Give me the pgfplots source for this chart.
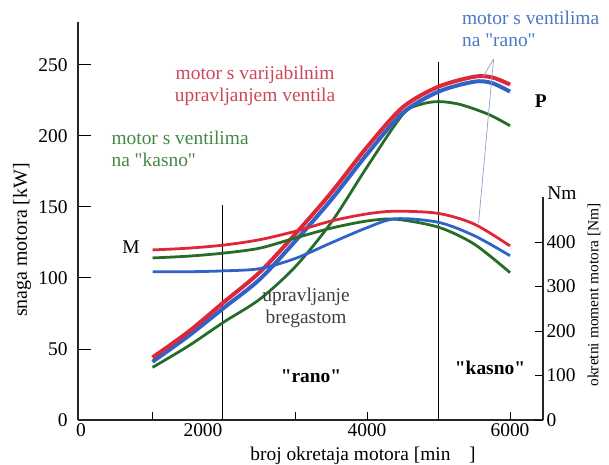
\documentclass[border=0pt]{standalone}
\usepackage{pgfplots}
\pgfplotsset{compat=1.18}
\usepackage{fontspec}
\setmainfont{Liberation Serif}

\definecolor{cred}{RGB}{222,40,58}
\definecolor{cblue}{RGB}{48,98,200}
\definecolor{cgreen}{RGB}{38,108,42}
\definecolor{tred}{RGB}{205,70,90}
\definecolor{tgreen}{RGB}{70,135,70}
\definecolor{tblue}{RGB}{75,120,195}
\definecolor{leader}{RGB}{140,160,200}

\newcommand{\fs}{\fontsize{19.5}{22}\selectfont}
\newcommand{\q}{\textquotedbl}

\pgfplotsset{
  base/.style={
    at={(78bp,45bp)}, anchor=south west,
    scale only axis, width=465bp, height=398bp,
    xmin=-42, xmax=6461, ymin=0,
    clip=false,
    /pgf/number format/assume math mode=true,
    tick label style={font=\fs},
    tick align=inside,
    tick style={black, line width=0.8pt},
  }
}

\begin{document}
\begin{tikzpicture}
\useasboundingbox (0,0) rectangle (609bp,465bp);

% power, kW
\begin{axis}[base,
  ymax=280,
  axis x line*=bottom, axis y line*=left,
  axis line style={line width=1.1pt, black!85},
  xtick={0,1706,4000,6000}, xticklabels={0,2000,4000,6000},
  x tick style={draw=none},
  ytick={0,50,100,150,200,250},
  major tick length=13bp,
  xticklabel style={yshift=-2bp, inner sep=1bp},
  yticklabel style={xshift=-7bp},
]
\draw[black, line width=1pt] (axis cs:1972,0) -- (axis cs:1972,151);
\draw[black, line width=1pt] (axis cs:4993,0) -- (axis cs:4993,252);

\addplot[cgreen, line width=2.8pt, smooth] coordinates {
  (1000,37) (1500,52) (2000,69) (2500,85) (3000,108) (3500,139) (4000,178)
  (4500,215) (4750,222) (5000,224) (5300,222) (5700,215) (6000,207)};
\addplot[cblue, line width=4pt, smooth] coordinates {
  (1000,41) (1500,59) (2000,79) (2500,99) (3000,126) (3500,155) (4000,187)
  (4500,216) (5000,231) (5500,238) (5750,237) (6000,231)};
\addplot[cred, line width=4pt, smooth] coordinates {
  (1000,44) (1500,62) (2000,83) (2500,104) (3000,131) (3500,160) (4000,192)
  (4500,220) (5000,234.5) (5500,241.5) (5750,241) (6000,236)};

\node[tred, font=\fs, align=center] at (axis cs:2434,235)
  {motor s varijabilnim\\upravljanjem ventila};
\node[tgreen, font=\fs, align=left, anchor=west] at (axis cs:378,190.7)
  {motor s ventilima\\na \q kasno\q};
\node[tblue, font=\fs, align=left, anchor=west] at (axis cs:5280,275)
  {motor s ventilima\\na \q rano\q};
\node[font=\fs] at (axis cs:700,121.7) {M};
\node[font=\fs\bfseries] at (axis cs:6430,224.4) {P};
\node[black!75, font=\fs, align=center] at (axis cs:3147,78.8)
  {upravljanje\\bregastom};
\node[font=\fs\bfseries] at (axis cs:3217,31) {\q rano\q};
\node[font=\fs\bfseries] at (axis cs:5720,36.6) {\q kasno\q};
\end{axis}

% torque, Nm
\begin{axis}[base,
  ymax=894,
  axis x line*=bottom, axis y line*=right,
  axis line style={draw=none},
  xtick={1000,3000,4000,6000}, xticklabels={,,,},
  ytick={0,100,200,300,400},
  major tick length=8bp,
]
\draw[black!85, line width=1.1pt] (axis cs:6461,0) -- (axis cs:6461,500);
\draw[leader, line width=0.7pt] (axis cs:5770,811) -- (axis cs:5620,770);
\draw[leader, line width=0.7pt] (axis cs:5770,811) -- (axis cs:5560,443);

\addplot[cgreen, line width=2.8pt, smooth] coordinates {
  (1000,364) (1500,368) (2000,375) (2500,386) (3000,409) (3500,431) (4000,447)
  (4400,451) (5000,433) (5500,395) (6000,331)};
\addplot[cblue, line width=2.8pt, smooth] coordinates {
  (1000,333) (1500,333) (2000,335) (2500,340) (3000,363) (3500,398) (4000,432)
  (4400,452) (5000,444) (5500,414) (6000,369)};
\addplot[cred, line width=2.8pt, smooth] coordinates {
  (1000,382) (1500,386) (2000,393) (2500,405) (3000,424) (3500,447) (4000,463)
  (4400,469) (5000,464) (5500,440) (6000,391)};

\node[font=\fs] at (axis cs:6727,510) {Nm};
\end{axis}

\node[rotate=90, font=\fontsize{20}{22}\selectfont] at (22bp,225bp) {snaga motora [kW]};
\node[rotate=90, font=\fontsize{15.5}{18}\selectfont] at (594bp,170bp) {okretni moment motora [Nm]};
\node[font=\fs, inner sep=1bp] at (363bp,11bp) {broj okretaja motora [min\phantom{$^{-1}$}]};
\end{tikzpicture}
\end{document}
